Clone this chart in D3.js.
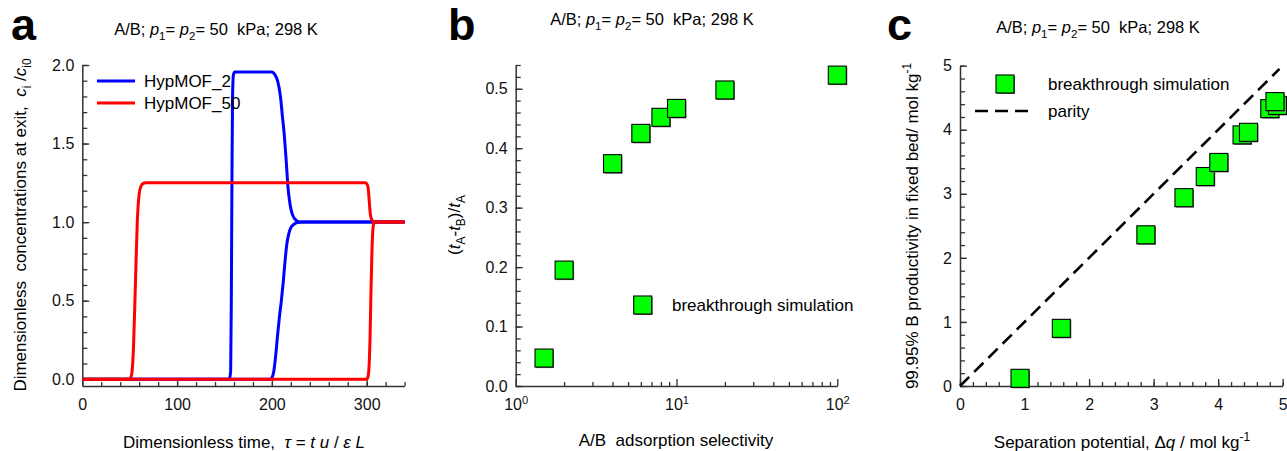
<!DOCTYPE html>
<html>
<head>
<meta charset="utf-8">
<script src="https://cdn.jsdelivr.net/npm/d3@7"></script>
<style>
  body { margin: 0; background: #fff; }
  svg { display: block; font-family: "Liberation Sans", Arial, sans-serif; }
  text { white-space: pre; }
</style>
</head>
<body>
<svg width="1287" height="451"></svg>
<script>
// ---- panel a: breakthrough curves (tau, c/c0) ----
var mof2B = [[0,0],[155,0],[156.5,0.05],[157.2,0.5],[157.8,1.2],[158.5,1.8],[159.5,1.94],[161,1.955],
    [200,1.955],[203,1.94],[206,1.9],[209,1.8],[211,1.68],[213,1.56],[215,1.4],[217,1.22],[219,1.12],
    [221,1.06],[223,1.03],[226,1.01],[230,1.0],[340,1.0]];
var mof2A = [[0,0],[198,0],[200,0.01],[202,0.05],[204,0.15],[206,0.28],[208,0.4],[210,0.5],[212,0.62],
    [214,0.76],[216,0.87],[218,0.93],[220,0.965],[223,0.985],[227,0.997],[232,1.0],[340,1.0]];
var mof50B = [[0,0],[50,0],[52,0.03],[54,0.2],[56,0.6],[58,1.0],[60,1.18],[62,1.23],[64,1.245],[67,1.25],
    [298,1.25],[300,1.245],[301.5,1.22],[302.5,1.15],[303.5,1.07],[304.5,1.03],[306,1.01],[308,1.0],[340,1.0]];
var mof50A = [[0,0],[300,0],[301.5,0.02],[302.5,0.08],[303.5,0.25],[304.5,0.55],[305.5,0.8],[306.5,0.95],
    [307.5,0.99],[309,1.0],[340,1.0]];

// ---- panel b: (tA-tB)/tA vs selectivity ----
var bSel = [1.5, 2, 4, 6, 8, 10, 20, 100];
var bFrac = [0.047, 0.195, 0.374, 0.425, 0.452, 0.467, 0.498, 0.523];

// ---- panel c: productivity vs separation potential ----
var cDq = [0.93, 1.57, 2.88, 3.47, 3.80, 4.01, 4.37, 4.47, 4.80, 4.92, 4.88];
var cProd = [0.12, 0.90, 2.36, 2.94, 3.27, 3.49, 3.92, 3.96, 4.33, 4.38, 4.44];
var parity = [0, 4.95];

var svg = d3.select("svg");
var axisColor = "#333";
var green = "#00ff00";

// helper: text made of parts, each [string, flags] ; flags: i = italic, sub, sup
function rich(g, parts, size) {
    var shift = 0;
    parts.forEach(function (p) {
        var f = p[1] || "";
        var target = 0, fs = size;
        if (f.indexOf("sub") >= 0) { target = 0.3 * size; fs = size * 0.7; }
        if (f.indexOf("sup") >= 0) { target = -0.4 * size; fs = size * 0.7; }
        g.append("tspan")
            .attr("dy", target - shift)
            .attr("font-size", fs)
            .attr("font-style", f === "i" ? "italic" : null)
            .text(p[0]);
        shift = target;
    });
    return g;
}

function title(x, y) {
    var t = svg.append("text").attr("x", x).attr("y", y).attr("text-anchor", "middle").attr("font-size", 16.5);
    rich(t, [["A/B; "], ["p", "i"], ["1", "sub"], ["= "], ["p", "i"], ["2", "sub"], ["= 50  kPa; 298 K"]], 16.5);
}

function letter(s, x) {
    svg.append("text").attr("x", x).attr("y", 40).attr("font-size", 45)
        .attr("font-weight", "bold").text(s);
}

// draw axes with major + minor ticks pointing inward
function drawAxes(x, y, xMajor, xMinor, yMajor, yMinor, xFmt, yFmt) {
    var y0 = y.range()[0], x0 = x.range()[0];
    var gx = svg.append("g").attr("transform", "translate(0," + y0 + ")").attr("color", axisColor);
    gx.append("g").call(d3.axisBottom(x).tickValues(xMinor).tickSize(-4).tickSizeOuter(0).tickFormat(""))
        .call(function (g) { g.select(".domain").remove(); g.selectAll("text").remove(); });
    var gxMajor = gx.append("g").call(d3.axisBottom(x).tickValues(xMajor).tickSize(-7).tickSizeOuter(0)
        .tickPadding(13).tickFormat(xFmt));
    var gy = svg.append("g").attr("transform", "translate(" + x0 + ",0)").attr("color", axisColor);
    gy.append("g").call(d3.axisLeft(y).tickValues(yMinor).tickSize(-5).tickSizeOuter(0).tickFormat(""))
        .call(function (g) { g.select(".domain").remove(); g.selectAll("text").remove(); });
    gy.append("g").call(d3.axisLeft(y).tickValues(yMajor).tickSize(-7).tickSizeOuter(0)
        .tickPadding(8).tickFormat(yFmt));
    svg.selectAll(".domain").attr("stroke-width", 1.5);
    svg.selectAll(".tick line").attr("stroke-width", 1.3);
    svg.selectAll(".tick text").attr("font-size", 16).attr("fill", "#111")
        .attr("font-family", "Liberation Sans, Arial, sans-serif");
    return gxMajor;
}

function square(px, py) {
    svg.append("rect").attr("x", px - 8).attr("y", py - 8).attr("width", 18).attr("height", 18)
        .attr("fill", "#666");
    svg.append("rect").attr("x", px - 9).attr("y", py - 9).attr("width", 18).attr("height", 18)
        .attr("fill", green).attr("stroke", "#000").attr("stroke-width", 1.1);
}

// ================= panel a =================
var xa = d3.scaleLinear().domain([0, 340]).range([82.3, 404.6]);
var ya = d3.scaleLinear().domain([-0.043, 2.0]).range([386, 65]);
drawAxes(xa, ya, [0, 100, 200, 300], d3.range(20, 341, 20), d3.range(0, 2.01, 0.5),
    d3.range(0, 2.01, 0.1), d3.format("d"), d3.format(".1f"));

var line = d3.line().x(function (d) { return xa(d[0]); }).y(function (d) { return ya(d[1]); })
    .curve(d3.curveMonotoneX);
[mof2B, mof2A].forEach(function (s) {
    svg.append("path").datum(s).attr("d", line).attr("fill", "none").attr("stroke", "#0000ff").attr("stroke-width", 3);
});
[mof50B, mof50A].forEach(function (s) {
    svg.append("path").datum(s).attr("d", line).attr("fill", "none").attr("stroke", "#ff0000").attr("stroke-width", 3);
});

var legA = [["HypMOF_2", "#0000ff", 81], ["HypMOF_50", "#ff0000", 103]];
legA.forEach(function (l) {
    svg.append("line").attr("x1", 97).attr("x2", 135).attr("y1", l[2]).attr("y2", l[2])
        .attr("stroke", l[1]).attr("stroke-width", 3);
    svg.append("text").attr("x", 144).attr("y", l[2]).attr("dy", "0.35em").attr("font-size", 17).text(l[0]);
});

title(216, 35);
letter("a", 11);
rich(svg.append("text").attr("x", 244).attr("y", 448).attr("text-anchor", "middle").attr("font-size", 17),
    [["Dimensionless time,  "], ["τ", "i"], [" = "], ["t u", "i"], [" / "], ["ε L", "i"]], 17);
rich(svg.append("text").attr("transform", "translate(26,225) rotate(-90)").attr("text-anchor", "middle").attr("font-size", 17),
    [["Dimensionless  concentrations at exit,  "], ["c", "i"], ["i", "sub"], [" /"], ["c", "i"], ["i0", "sub"]], 17);

// ================= panel b =================
var xb = d3.scaleLog().domain([1, 100]).range([515.7, 837.3]);
var yb = d3.scaleLinear().domain([0, 0.54]).range([386, 65]);
var bMinor = xb.ticks().filter(function (v) { return [1, 10, 100].indexOf(v) < 0; });
var gxb = drawAxes(xb, yb, [1, 10, 100], bMinor, d3.range(0, 0.51, 0.1), d3.range(0, 0.541, 0.02),
    function () { return ""; }, d3.format(".1f"));
gxb.selectAll(".tick text").attr("y", 24).attr("dy", null).each(function (d) {
    rich(d3.select(this), [["10"], [String(Math.round(Math.log10(d))), "sup"]], 16);
});
bSel.forEach(function (v, i) { square(xb(v), yb(bFrac[i])); });
square(642.7, 305);
svg.append("text").attr("x", 672).attr("y", 305).attr("dy", "0.35em").attr("font-size", 17).text("breakthrough simulation");

title(652, 25);
letter("b", 448);
svg.append("text").attr("x", 676).attr("y", 446).attr("text-anchor", "middle").attr("font-size", 17)
    .text("A/B  adsorption selectivity");
rich(svg.append("text").attr("transform", "translate(460,225) rotate(-90)").attr("text-anchor", "middle").attr("font-size", 17),
    [["("], ["t", "i"], ["A", "sub"], ["-"], ["t", "i"], ["B", "sub"], [")/"], ["t", "i"], ["A", "sub"]], 17);

// ================= panel c =================
var xc = d3.scaleLinear().domain([0, 5]).range([960, 1282.7]);
var yc = d3.scaleLinear().domain([0, 5]).range([386, 65.7]);
drawAxes(xc, yc, d3.range(0, 5.01, 1), d3.range(0, 5.01, 0.2), d3.range(0, 5.01, 1), d3.range(0, 5.01, 0.2),
    d3.format("d"), d3.format("d"));
svg.append("line").attr("x1", xc(parity[0])).attr("y1", yc(parity[0])).attr("x2", xc(parity[1])).attr("y2", yc(parity[1]))
    .attr("stroke", "#000").attr("stroke-width", 2.6).attr("stroke-dasharray", "13,7");
cDq.forEach(function (v, i) { square(xc(v), yc(cProd[i])); });

square(1005, 84);
svg.append("text").attr("x", 1048).attr("y", 84).attr("dy", "0.35em").attr("font-size", 17).text("breakthrough simulation");
svg.append("line").attr("x1", 975).attr("x2", 1028).attr("y1", 111).attr("y2", 111)
    .attr("stroke", "#000").attr("stroke-width", 2.6).attr("stroke-dasharray", "13,7");
svg.append("text").attr("x", 1048).attr("y", 111).attr("dy", "0.35em").attr("font-size", 17).text("parity");

title(1098, 33);
letter("c", 887);
rich(svg.append("text").attr("x", 1122).attr("y", 448).attr("text-anchor", "middle").attr("font-size", 17),
    [["Separation potential, Δ"], ["q", "i"], [" / mol kg"], ["-1", "sup"]], 17);
rich(svg.append("text").attr("transform", "translate(918,226) rotate(-90)").attr("text-anchor", "middle").attr("font-size", 17),
    [["99.95% B productivity in fixed bed/ mol kg"], ["-1", "sup"]], 17);
</script>
</body>
</html>
